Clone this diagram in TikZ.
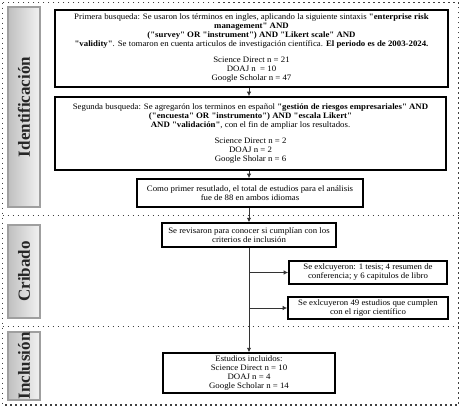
\documentclass[tikz,border=0pt]{standalone}
\usepackage{fontspec}
\setmainfont{Liberation Serif}
\newfontfamily\boxfont{Liberation Serif}[FakeStretch=1.06]
\usetikzlibrary{arrows.meta}
\tikzset{
  box/.style={draw=black, line width=1.6pt, fill=white, align=center, inner sep=2pt,
    font=\boxfont\fontsize{8.3}{9}\selectfont},
  bar/.style={draw=gray!75, line width=1.2pt, left color=gray!50, right color=gray!10,
    rotate=90, font=\fontsize{17}{18}\selectfont\bfseries, text=black!85, inner sep=0pt},
  sep/.style={draw=black!75, line width=1.5pt, dash pattern=on 1.5pt off 3.5pt},
  arr/.style={draw=black!80, line width=1pt, -{Latex[length=4.5pt,width=4.5pt]}},
  ln/.style={draw=black!80, line width=1pt}
}
\begin{document}
\begin{tikzpicture}[x=1pt,y=-1pt]
\useasboundingbox (0,0) rectangle (461,407);
% frame and separators
\coordinate (tl) at (2.5,2.5);
\coordinate (br) at (458.5,405);
\draw[sep] (tl) rectangle (br);
\coordinate (s1l) at (2.5,215.5);
\coordinate (s1r) at (458.5,215.5);
\coordinate (s2l) at (2.5,326.5);
\coordinate (s2r) at (458.5,326.5);
\draw[sep] (s1l) -- (s1r);
\draw[sep] (s2l) -- (s2r);
% side bars
\node[bar, minimum width=200pt, minimum height=32pt] (lid) at (24,107) {Identificación};
\node[bar, minimum width=93pt, minimum height=32pt] (lcr) at (24,271.5) {Cribado};
\node[bar, minimum width=68pt, minimum height=32pt] (lin) at (24,366) {Inclusión};
% boxes
\node[box, minimum width=393pt, minimum height=77pt] (b1) at (251.5,48.5) {%
Primera busqueda: Se usaron los términos en ingles, aplicando la siguiente sintaxis \textbf{"enterprise risk}\\
\textbf{management" AND}\\
\textbf{("survey" OR "instrument") AND "Likert scale" AND}\\
\textbf{"validity"}. Se tomaron en cuenta articulos de investigación científica. \textbf{El periodo es de 2003-2024.}\\[7pt]
Science Direct n = 21\\
DOAJ n \ = 10\\
Google Scholar n = 47};
\node[box, minimum width=391pt, minimum height=73pt] (b2) at (250.5,133.5) {%
Segunda busqueda: Se agregarón los terminos en español \textbf{"gestión de riesgos empresariales" AND}\\
\textbf{("encuesta" OR "instrumento") AND "escala Likert"}\\
\textbf{AND "validación"}, con el fin de ampliar los resultados.\\[7pt]
Science Direct n = 2\\
DOAJ n = 2\\
Google Sholar n = 6};
\node[box, minimum width=226pt, minimum height=28pt] (b3) at (250,193) {%
Como primer resutlado, el total de estudios para el análisis\\
fue de 88 en ambos idiomas};
\node[box, line width=1.4pt, minimum width=174pt, minimum height=24pt] (b4) at (249,235) {%
Se revisaron para conocer si cumplían con los\\
criterios de inclusión};
\node[box, minimum width=158pt, minimum height=23pt] (b5) at (368,272.5) {%
Se exlcuyeron: 1 tesis; 4 resumen de\\
conferencia; y 6 capitulos de libro};
\node[box, minimum width=160pt, minimum height=22pt] (b6) at (368,308) {%
Se exlcuyeron 49 estudios que cumplen\\
con el rigor científico};
\node[box, line width=1.4pt, minimum width=172pt, minimum height=40pt] (b7) at (249,373) {%
Estudios incluidos:\\
Science Direct n = 10\\
DOAJ n = 4\\
Google Scholar n = 14};
% connectors
\draw[arr] (b1.south -| b4.south) -- (b2.north -| b4.south);
\draw[arr] (b2.south -| b4.south) -- (b3.north -| b4.south);
\draw[arr] (b3.south -| b4.south) -- (b4.north);
\draw[arr] (b4.south) -- (b7.north);
\draw[arr] (b4.south |- b5.west) -- (b5.west);
\draw[arr] (b4.south |- b6.west) -- (b6.west);
\end{tikzpicture}
\end{document}
